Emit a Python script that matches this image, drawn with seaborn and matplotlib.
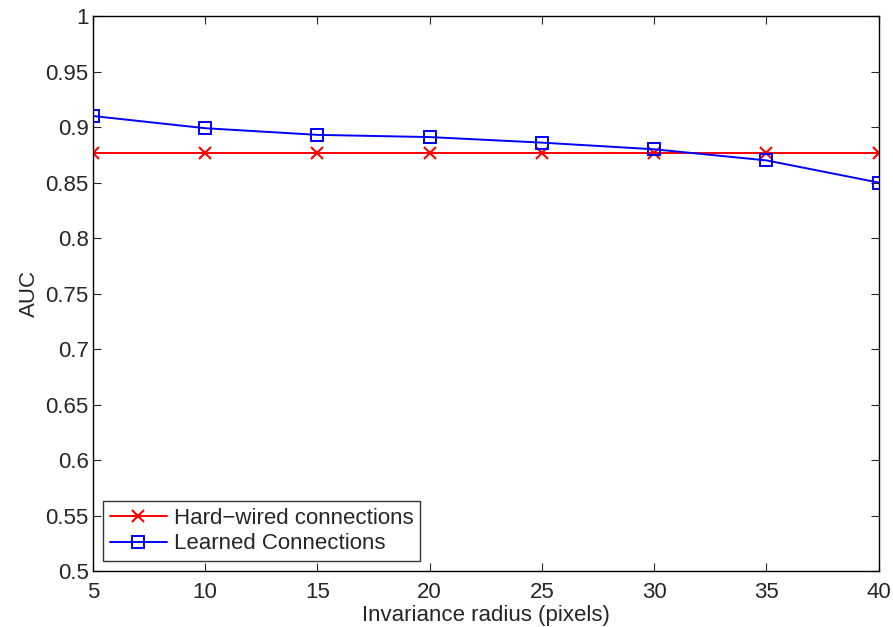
import pandas as pd
import matplotlib.pyplot as plt
import seaborn as sns

# AUC vs invariance radius
radius = [5, 10, 15, 20, 25, 30, 35, 40]
hard_wired = [0.877, 0.877, 0.877, 0.877, 0.877, 0.877, 0.877, 0.877]
learned = [0.910, 0.899, 0.893, 0.891, 0.886, 0.880, 0.870, 0.850]

df = pd.DataFrame({"radius": radius, "hard": hard_wired, "learned": learned})

sns.set_style("ticks")
plt.rcParams["font.family"] = ["Liberation Sans", "DejaVu Sans"]
plt.rcParams["xtick.direction"] = "in"
plt.rcParams["ytick.direction"] = "in"

fig = plt.figure(figsize=(8.93, 6.27), dpi=100)
ax = fig.add_axes([0.104, 0.0893, 0.880, 0.885])

sns.lineplot(data=df, x="radius", y="hard", ax=ax, color="red", marker="x",
             markersize=8, markeredgecolor="red", markeredgewidth=1.5,
             linewidth=1.4, label="Hard\u2212wired connections")
sns.lineplot(data=df, x="radius", y="learned", ax=ax, color="blue", marker="s",
             markersize=9, markerfacecolor="none", markeredgecolor="blue",
             markeredgewidth=1.4, linewidth=1.4, label="Learned Connections")

ax.set_xlim(5, 40)
ax.set_ylim(0.5, 1)
ax.set_xticks(range(5, 41, 5))
ax.set_yticks([0.5 + 0.05 * i for i in range(11)])
ax.set_yticklabels(["0.5", "0.55", "0.6", "0.65", "0.7", "0.75", "0.8",
                    "0.85", "0.9", "0.95", "1"])
ax.tick_params(axis="both", labelsize=16, top=True, right=True, length=6,
               width=0.8)
ax.tick_params(axis="x", pad=8)
ax.tick_params(axis="y", pad=3)
for s in ax.spines.values():
    s.set_linewidth(1.0)
    s.set_color("black")

ax.set_xlabel("Invariance radius (pixels)", fontsize=16, labelpad=1)
ax.set_ylabel("AUC", fontsize=16, labelpad=4)

leg = ax.legend(loc="lower left", fontsize=16, frameon=True, fancybox=False,
                edgecolor="black", borderaxespad=0.45, handlelength=2.6,
                handletextpad=0.3, borderpad=0.3, labelspacing=0.2)
leg.get_frame().set_linewidth(1.0)

fig.savefig("out.png", dpi=100)
